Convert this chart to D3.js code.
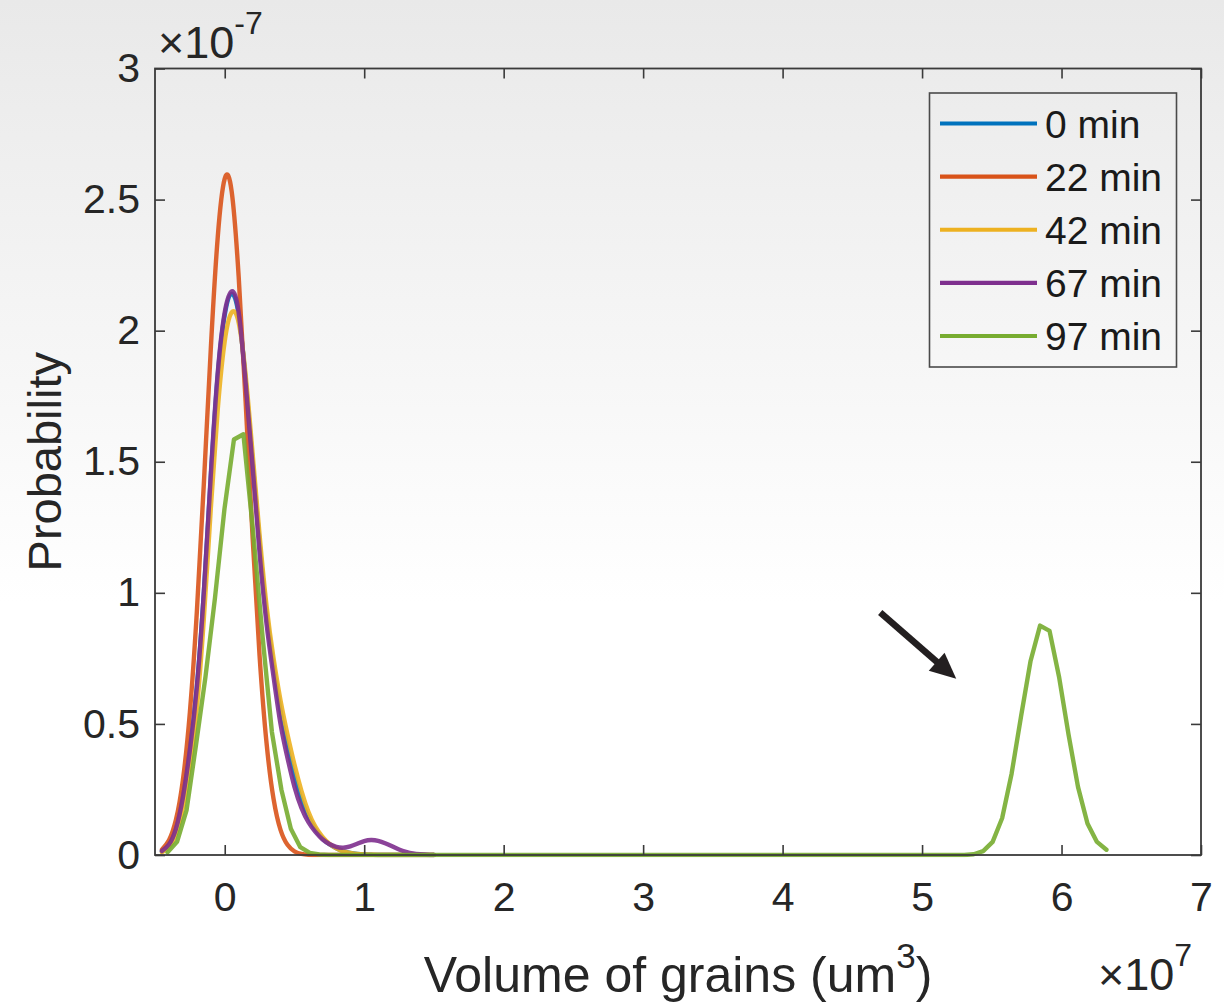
<!DOCTYPE html>
<html><head><meta charset="utf-8">
<script src="https://cdn.jsdelivr.net/npm/d3@7"></script>
<style>html,body{margin:0;padding:0;background:#fff;} svg{display:block;}</style>
</head><body>
<svg id="c" width="1224" height="1003"></svg>
<script>
const seriesNames = ["0 min", "22 min", "42 min", "67 min", "97 min"];
const seriesColors = ["#0072BD", "#D95319", "#EDB120", "#7E2F8E", "#77AC30"];

// x grid (×10^7 um^3) for the first four series
const xMain = [-0.45,-0.40,-0.35,-0.30,-0.25,-0.20,-0.15,-0.10,-0.05,0.00,
               0.05,0.10,0.15,0.20,0.25,0.30,0.35,0.40,0.45,0.50,
               0.55,0.60,0.65,0.70,0.75,0.80,0.85,0.90,0.95,1.00,
               1.05,1.10,1.15,1.20,1.25,1.30,1.35,1.40,1.45,1.50];
// probability (×10^-7)
const y0min  = [0.015,0.04,0.10,0.22,0.40,0.64,1.00,1.44,1.83,2.06,
                2.14,2.06,1.81,1.50,1.19,0.92,0.72,0.55,0.41,0.30,
                0.21,0.145,0.098,0.064,0.041,0.026,0.015,0.008,0.004,0.002,
                0.001,0,0,0,0,0,0,0,0,0];
const y22min = [0.021,0.056,0.134,0.286,0.544,0.927,1.414,1.930,2.358,2.580,
                2.530,2.206,1.728,1.210,0.759,0.426,0.214,0.096,0.039,0.014,
                0.004,0.001,0,0,0,0,0,0,0,0,
                0,0,0,0,0,0,0,0,0,0];
const y42min = [0.01,0.03,0.08,0.18,0.34,0.56,0.90,1.32,1.70,1.96,
                2.07,2.03,1.83,1.53,1.22,0.95,0.75,0.59,0.46,0.345,
                0.245,0.165,0.108,0.07,0.043,0.026,0.014,0.008,0.004,0.002,
                0.001,0,0,0,0,0,0,0,0,0];
const y67min = [0.015,0.04,0.10,0.22,0.40,0.64,1.00,1.45,1.84,2.07,
                2.15,2.07,1.80,1.48,1.15,0.88,0.68,0.50,0.37,0.26,
                0.18,0.125,0.088,0.06,0.042,0.031,0.028,0.033,0.043,0.053,
                0.057,0.054,0.045,0.033,0.021,0.012,0.006,0.003,0.001,0];
// 97 min has its own (coarser, wider) grid
const xGreen = [-0.410,-0.342,-0.274,-0.206,-0.138,-0.070,-0.002,0.066,0.134,0.202,
                0.270,0.338,0.406,0.474,0.542,0.610,0.678,0.746,
                5.302,5.370,5.438,5.506,5.574,5.642,5.710,5.778,5.846,5.914,
                5.982,6.050,6.118,6.186,6.254,6.322];
const y97min = [0.01,0.05,0.17,0.42,0.68,0.98,1.32,1.585,1.605,1.24,
                0.84,0.47,0.25,0.10,0.03,0.008,0.002,0,
                0,0.003,0.015,0.05,0.14,0.31,0.53,0.74,0.875,0.855,
                0.68,0.46,0.26,0.12,0.05,0.02];

const xTicks = [0, 1, 2, 3, 4, 5, 6, 7];
const xTickLabels = ["0", "1", "2", "3", "4", "5", "6", "7"];
const yTicks = [0, 0.5, 1, 1.5, 2, 2.5, 3];
const yTickLabels = ["0", "0.5", "1", "1.5", "2", "2.5", "3"];
const arrowFrom = [4.70, 0.925];
const arrowTo = [5.245, 0.672];

const series = [
  {name: seriesNames[0], color: seriesColors[0], xs: xMain, ys: y0min, smooth: true},
  {name: seriesNames[1], color: seriesColors[1], xs: xMain, ys: y22min, smooth: true},
  {name: seriesNames[2], color: seriesColors[2], xs: xMain, ys: y42min, smooth: true},
  {name: seriesNames[3], color: seriesColors[3], xs: xMain, ys: y67min, smooth: true},
  {name: seriesNames[4], color: seriesColors[4], xs: xGreen, ys: y97min, smooth: false}
];

const svg = d3.select("#c");
const W = 1224, H = 1003;
const L = 155, R = 1201, T = 68.5, B = 855;
const FONT = "'Liberation Sans', Arial, Helvetica, sans-serif";

const defs = svg.append("defs");
const grad = defs.append("linearGradient").attr("id", "bg").attr("x1", 0).attr("y1", 0).attr("x2", 0).attr("y2", 1);
grad.append("stop").attr("offset", "0").attr("stop-color", "#e9e9e9");
grad.append("stop").attr("offset", "0.3").attr("stop-color", "#f4f4f4");
grad.append("stop").attr("offset", "0.6").attr("stop-color", "#ffffff");
grad.append("stop").attr("offset", "1").attr("stop-color", "#ffffff");
svg.append("rect").attr("width", W).attr("height", H).attr("fill", "url(#bg)");

const x = d3.scaleLinear().domain([-0.5, 7]).range([L, R]);
const y = d3.scaleLinear().domain([0, 3]).range([B, T]);

// lines
const lineSmooth = d3.line().x(d => x(d[0])).y(d => y(d[1])).curve(d3.curveNatural);
const lineLin = d3.line().x(d => x(d[0])).y(d => y(d[1]));
defs.append("clipPath").attr("id", "clipB").append("rect")
  .attr("x", 0).attr("y", 0).attr("width", W).attr("height", B + 2.2);
const gLines = svg.append("g").attr("clip-path", "url(#clipB)");
series.forEach(s => {
  const pts = s.xs.map((v, i) => [v, s.ys[i]]);
  gLines.append("path")
    .attr("d", (s.smooth ? lineSmooth : lineLin)(pts))
    .attr("fill", "none")
    .attr("stroke", s.color)
    .attr("stroke-width", 4.4)
    .attr("stroke-linejoin", "round")
    .attr("stroke-linecap", "round")
    .attr("stroke-opacity", 0.9);
});

// axes
const axCol = "#3a3a3a";
const tickLen = 10;
const gAx = svg.append("g");
gAx.append("g").attr("transform", `translate(0,${B})`)
  .call(d3.axisBottom(x).tickValues(xTicks).tickFormat((d, i) => xTickLabels[i])
        .tickSizeInner(-tickLen).tickSizeOuter(0).tickPadding(27));
gAx.append("g").attr("transform", `translate(0,${T})`)
  .call(d3.axisTop(x).tickValues(xTicks).tickFormat("").tickSizeInner(-tickLen).tickSizeOuter(0));
gAx.append("g").attr("transform", `translate(${L},0)`)
  .call(d3.axisLeft(y).tickValues(yTicks).tickFormat((d, i) => yTickLabels[i])
        .tickSizeInner(-tickLen).tickSizeOuter(0).tickPadding(15));
gAx.append("g").attr("transform", `translate(${R},0)`)
  .call(d3.axisRight(y).tickValues(yTicks).tickFormat("").tickSizeInner(-tickLen).tickSizeOuter(0));
gAx.selectAll(".domain").remove();
gAx.selectAll(".tick line").attr("stroke", axCol).attr("stroke-width", 1.6);
gAx.selectAll(".tick text").attr("fill", "#262626").style("font-family", FONT).style("font-size", "41px");
gAx.append("rect").attr("x", L).attr("y", T).attr("width", R - L).attr("height", B - T)
  .attr("fill", "none").attr("stroke", axCol).attr("stroke-width", 1.8);

// exponent labels
const expTop = svg.append("text").attr("x", 158).attr("y", 58)
  .style("font-family", FONT).style("font-size", "45px").attr("fill", "#262626");
expTop.append("tspan").text("\u00d7");
expTop.append("tspan").text("10");
expTop.append("tspan").attr("dy", -24).style("font-size", "32px").text("-7");

const expBot = svg.append("text").attr("x", 1098).attr("y", 990)
  .style("font-family", FONT).style("font-size", "45px").attr("fill", "#262626");
expBot.append("tspan").text("\u00d7");
expBot.append("tspan").text("10");
expBot.append("tspan").attr("dy", -24).style("font-size", "32px").text("7");

// axis labels
const xl = svg.append("text").attr("x", (L + R) / 2).attr("y", 992).attr("text-anchor", "middle")
  .style("font-family", FONT).style("font-size", "50px").attr("fill", "#262626");
xl.append("tspan").text("Volume of grains (um");
xl.append("tspan").attr("dy", -24).style("font-size", "35px").text("3");
xl.append("tspan").attr("dy", 24).text(")");

svg.append("text").attr("transform", `translate(61,${(T + B) / 2}) rotate(-90)`)
  .attr("text-anchor", "middle")
  .style("font-family", FONT).style("font-size", "47px").attr("fill", "#262626")
  .text("Probability");

// arrow annotation
const ax0 = x(arrowFrom[0]), ay0 = y(arrowFrom[1]), ax1 = x(arrowTo[0]), ay1 = y(arrowTo[1]);
const dx = ax1 - ax0, dy = ay1 - ay0, len = Math.hypot(dx, dy);
const ux = dx / len, uy = dy / len, headL = 26, headW = 12;
const bx = ax1 - ux * headL, by = ay1 - uy * headL;
svg.append("line").attr("x1", ax0).attr("y1", ay0).attr("x2", bx + ux * 2).attr("y2", by + uy * 2)
  .attr("stroke", "#231f20").attr("stroke-width", 6.5);
svg.append("path")
  .attr("d", `M${ax1},${ay1} L${bx - uy * headW},${by + ux * headW} L${bx + uy * headW},${by - ux * headW} Z`)
  .attr("fill", "#231f20");

// legend
const lg = svg.append("g");
lg.append("rect").attr("x", 929.5).attr("y", 93).attr("width", 247).attr("height", 274)
  .attr("fill", "none").attr("stroke", "#4a4a4a").attr("stroke-width", 1.6);
const rowY = d3.scaleLinear().domain([0, 4]).range([123.5, 336]);
series.forEach((s, i) => {
  lg.append("line").attr("x1", 940).attr("x2", 1037).attr("y1", rowY(i)).attr("y2", rowY(i))
    .attr("stroke", s.color).attr("stroke-width", 4.2);
  lg.append("text").attr("x", 1045).attr("y", rowY(i)).attr("dy", "0.36em")
    .style("font-family", FONT).style("font-size", "39px").attr("fill", "#1a1a1a").text(s.name);
});
</script>
</body></html>
